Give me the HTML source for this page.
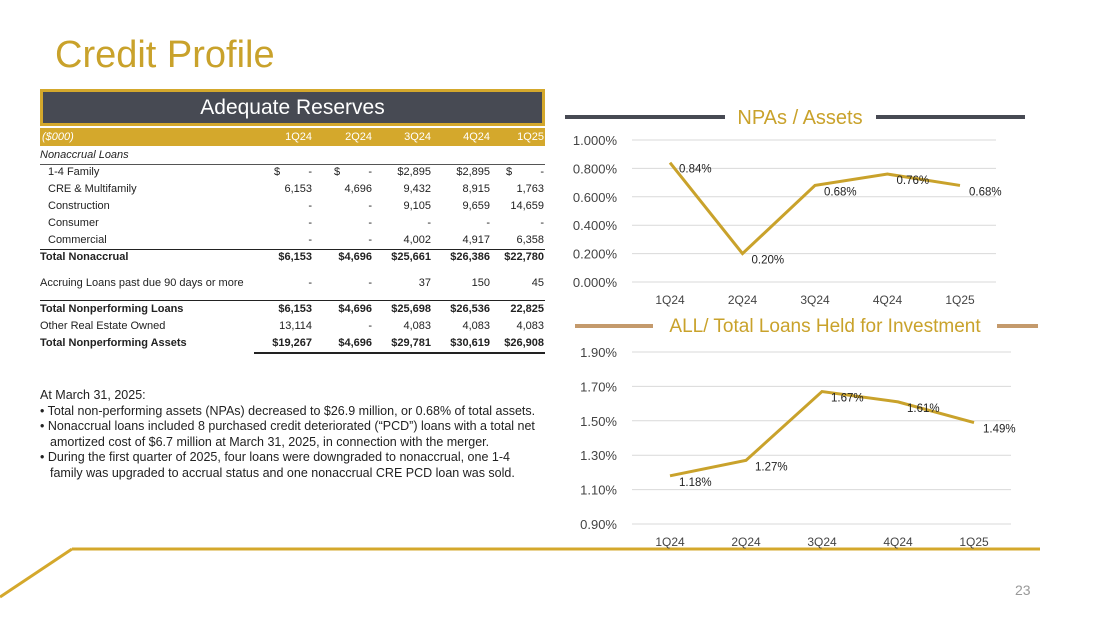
<!DOCTYPE html>
<html><head><meta charset="utf-8">
<style>
body{margin:0;width:1100px;height:618px;background:#fff;position:relative;overflow:hidden;font-family:"Liberation Sans",sans-serif;}
.abs{position:absolute}
.row{position:absolute;left:40px;width:505px;height:17px;font-size:11px;color:#222;line-height:17px}
.row span{position:absolute;top:0}
.c{text-align:right;width:60px}
.b{font-weight:bold}
</style></head><body>
<div class="abs" style="left:55px;top:34px;font-size:38px;color:#C9A22B;">Credit Profile</div>
<div class="abs" style="left:40px;top:89px;width:499px;height:31px;background:#474A53;border:3px solid #D4A82C;color:#fff;font-size:21px;text-align:center;line-height:31px;">Adequate Reserves</div>
<div id="tbl"></div>
<div class="abs" style="left:40px;top:388px;width:502px;font-size:12.5px;color:#222;line-height:15.5px;">
At March 31, 2025:<br>
<div style="padding-left:10px;text-indent:-10px">• Total non-performing assets (NPAs) decreased to $26.9 million, or 0.68% of total assets.</div>
<div style="padding-left:10px;text-indent:-10px">• Nonaccrual loans included 8 purchased credit deteriorated (“PCD”) loans with a total net amortized cost of $6.7 million at March 31, 2025, in connection with the merger.</div>
<div style="padding-left:10px;text-indent:-10px">• During the first quarter of 2025, four loans were downgraded to nonaccrual, one 1-4 family was upgraded to accrual status and one nonaccrual CRE PCD loan was sold.</div>
</div>
<svg class="abs" style="left:0;top:0" width="1100" height="618" id="svg">
<line x1="565" y1="117" x2="725" y2="117" stroke="#474A53" stroke-width="4"/>
<line x1="876" y1="117" x2="1025" y2="117" stroke="#474A53" stroke-width="4"/>
<text x="800" y="124" font-size="20" fill="#C9A22B" text-anchor="middle" font-family="Liberation Sans">NPAs / Assets</text>
<line x1="575" y1="326" x2="653" y2="326" stroke="#C49A6C" stroke-width="4"/>
<line x1="997" y1="326" x2="1038" y2="326" stroke="#C49A6C" stroke-width="4"/>
<text x="825" y="332" font-size="19" fill="#C9A22B" text-anchor="middle" font-family="Liberation Sans">ALL/ Total Loans Held for Investment</text>
<line x1="72" y1="549" x2="1040" y2="549" stroke="#D4A82C" stroke-width="3"/>
<line x1="0" y1="597" x2="72" y2="549" stroke="#D4A82C" stroke-width="3"/>
<text x="1015" y="595" font-size="14" fill="#999" font-family="Liberation Sans">23</text>
</svg>
<script>
const quarters=["1Q24","2Q24","3Q24","4Q24","1Q25"];
const npaValues=[0.84,0.20,0.68,0.76,0.68];
const npaTicks=[0,0.2,0.4,0.6,0.8,1.0];
const allValues=[1.18,1.27,1.67,1.61,1.49];
const allTicks=[0.9,1.1,1.3,1.5,1.7,1.9];
const NS="http://www.w3.org/2000/svg";
const svg=document.getElementById('svg');
function mk(t,a,txt){const e=document.createElementNS(NS,t);for(const k in a)e.setAttribute(k,a[k]);if(txt!=null)e.textContent=txt;svg.appendChild(e);return e;}
function chart(vals,ticks,dec,x0,x1,y0,y1,catX0,catStep,prefix){
 const lo=ticks[0],hi=ticks[ticks.length-1];
 const ys=v=>y0-(v-lo)/(hi-lo)*(y0-y1);
 const xs=i=>catX0+i*catStep;
 ticks.forEach(t=>{
  const g=mk('line',{x1:x0,x2:x1,y1:ys(t),y2:ys(t),stroke:'#d9d9d9','stroke-width':1});
  
  
  const l=mk('text',{x:617,y:ys(t)+5,'font-size':13,fill:'#444','text-anchor':'end','font-family':'Liberation Sans'},t.toFixed(dec)+'%');
  
  
 });
 quarters.forEach((q,i)=>{
  const l=mk('text',{x:xs(i),y:y0+22,'font-size':12,fill:'#444','text-anchor':'middle','font-family':'Liberation Sans'},q);
  
  
 });
 const p=mk('polyline',{points:vals.map((v,i)=>xs(i)+','+ys(v)).join(' '),fill:'none',stroke:'#C9A22B','stroke-width':3});
 
 
 vals.forEach((v,i)=>{
  const l=mk('text',{x:xs(i)+9,y:ys(v)+10,'font-size':11.5,fill:'#222','font-family':'Liberation Sans'},v.toFixed(2)+'%');
  
  
 });
}
chart(npaValues,npaTicks,3,632,996,282,140,670,72.5,'npa');
chart(allValues,allTicks,2,632,1011,524,352,670,76,'all');

const rows=[
 ["Nonaccrual Loans",["","","","",""],"i"],
 ["1-4 Family",["$ -","$ -","$2,895","$2,895","$ -"],"n"],
 ["CRE & Multifamily",["6,153","4,696","9,432","8,915","1,763"],"n"],
 ["Construction",["-","-","9,105","9,659","14,659"],"n"],
 ["Consumer",["-","-","-","-","-"],"n"],
 ["Commercial",["-","-","4,002","4,917","6,358"],"n"],
 ["Total Nonaccrual",["$6,153","$4,696","$25,661","$26,386","$22,780"],"b"],
 ["Accruing Loans past due 90 days or more",["-","-","37","150","45"],"t"],
 ["Total Nonperforming Loans",["$6,153","$4,696","$25,698","$26,536","22,825"],"b"],
 ["Other Real Estate Owned",["13,114","-","4,083","4,083","4,083"],"t"],
 ["Total Nonperforming Assets",["$19,267","$4,696","$29,781","$30,619","$26,908"],"b"]];
const rowY=[147,164,181,198,215,232,249,275,301,318,335];
const colR=[272,332,391,450,504];
const tbl=document.getElementById('tbl');
let h='<div class="row" style="top:128px;background:#D4A82C;color:#fff;height:18px;line-height:18px"><span style="left:2px;font-style:italic">($000)</span>';
quarters.forEach((q,i)=>h+=`<span class="c" style="left:${colR[i]-60}px">${q}</span>`);
h+='</div>';
rows.forEach((r,k)=>{
 const st=r[2]=='i'?'font-style:italic':r[2]=='b'?'font-weight:bold':'';
 const ind=r[2]=='n'?8:0;
 h+=`<div class="row" style="top:${rowY[k]}px;${st}"><span style="left:${ind}px">${r[0]}</span>`;
 r[1].forEach((v,i)=>{
  if(v.startsWith('$ ')){h+=`<span style="left:${colR[i]-38}px">$</span><span class="c" style="left:${colR[i]-60}px">-</span>`;}
  else h+=`<span class="c" style="left:${colR[i]-60}px">${v}</span>`;
 });
 h+='</div>';
});
h+='<div class="abs" style="left:40px;top:164px;width:505px;height:1px;background:#555"></div>';
h+='<div class="abs" style="left:40px;top:249px;width:505px;height:1px;background:#222"></div>';
h+='<div class="abs" style="left:40px;top:300px;width:505px;height:1px;background:#222"></div>';
h+='<div class="abs" style="left:254px;top:352px;width:291px;height:2px;background:#222"></div>';
tbl.innerHTML=h;
</script>
</body></html>
